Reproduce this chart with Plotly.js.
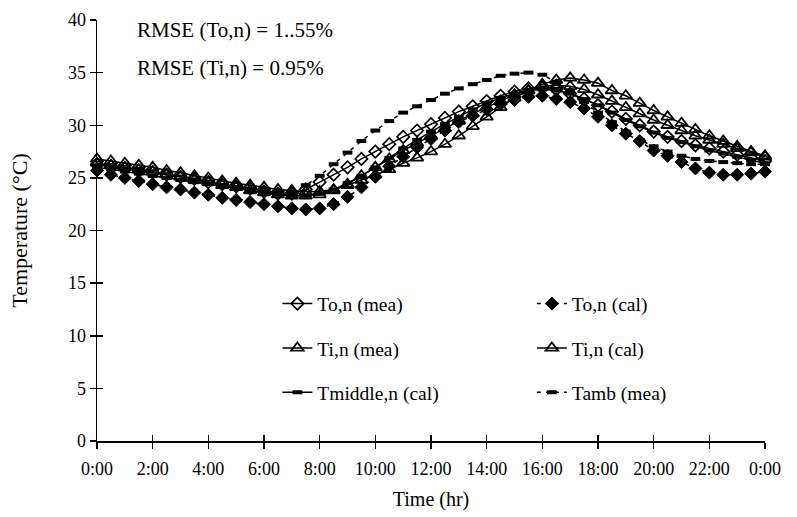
<!DOCTYPE html>
<html>
<head>
<meta charset="utf-8">
<script src="https://cdn.plot.ly/plotly-3.0.1.min.js"></script>
<style>html,body{margin:0;padding:0;background:#fff;}#chart{width:797px;height:517px;}</style>
</head>
<body>
<div id="chart"></div>
<script>
// Time in hours (half-hour steps, 0:00 to next 0:00)
const hours = [0,0.5,1,1.5,2,2.5,3,3.5,4,4.5,5,5.5,6,6.5,7,7.5,8,8.5,9,9.5,10,10.5,11,11.5,12,12.5,13,13.5,14,14.5,15,15.5,16,16.5,17,17.5,18,18.5,19,19.5,20,20.5,21,21.5,22,22.5,23,23.5,24];
const tickVals = [0,2,4,6,8,10,12,14,16,18,20,22,24];
const tickText = ["0:00","2:00","4:00","6:00","8:00","10:00","12:00","14:00","16:00","18:00","20:00","22:00","0:00"];

const toMea = [26.3,26.1,25.9,25.7,25.5,25.3,25.1,24.9,24.6,24.4,24.2,24.0,23.7,23.5,23.5,23.9,24.6,25.3,26.0,26.8,27.5,28.2,28.9,29.5,30.1,30.7,31.3,31.8,32.3,32.8,33.2,33.5,33.6,33.4,33.0,32.5,31.9,31.3,30.6,30.0,29.4,28.9,28.5,28.1,27.8,27.5,27.2,26.9,26.6];
const toCal = [25.7,25.3,25.0,24.7,24.4,24.1,23.9,23.6,23.4,23.1,22.9,22.7,22.5,22.3,22.1,22.0,22.1,22.5,23.2,24.1,25.1,26.1,27.0,27.9,28.7,29.5,30.3,30.9,31.5,32.0,32.4,32.7,32.8,32.5,32.2,31.6,30.8,30.0,29.2,28.5,27.6,27.1,26.5,25.9,25.5,25.3,25.3,25.4,25.6];
const tiMea = [26.8,26.6,26.4,26.2,26.0,25.7,25.5,25.2,25.0,24.7,24.5,24.3,24.1,23.9,23.8,23.7,23.7,23.9,24.3,24.8,25.3,25.8,26.4,26.9,27.5,28.2,29.0,29.9,30.8,31.7,32.6,33.3,33.9,34.3,34.5,34.3,34.0,33.3,32.8,32.1,31.4,30.8,30.2,29.6,29.0,28.5,28.0,27.5,27.1];
const tiCal = [26.4,26.2,26.0,25.8,25.6,25.3,25.1,24.8,24.6,24.3,24.1,23.8,23.6,23.4,23.3,23.3,23.4,23.8,24.4,25.2,26.0,26.8,27.6,28.3,29.0,29.7,30.4,31.1,31.7,32.3,32.9,33.3,33.7,33.8,33.7,33.4,32.9,32.3,31.7,31.1,30.5,30.0,29.5,29.0,28.6,28.2,27.8,27.4,27.0];
const tMiddle = [26.0,25.8,25.6,25.4,25.2,25.0,24.8,24.6,24.4,24.2,24.0,23.8,23.6,23.4,23.3,23.3,23.5,23.9,24.5,25.2,26.0,26.9,27.8,28.6,29.4,30.1,30.8,31.5,32.1,32.6,33.0,33.3,33.4,33.3,33.0,32.5,31.9,31.2,30.5,29.9,29.3,28.8,28.4,28.0,27.6,27.3,27.0,26.7,26.4];
const tAmb = [26.2,26.0,25.7,25.5,25.2,25.0,24.8,24.6,24.4,24.2,24.0,23.8,23.6,23.5,23.6,24.3,25.2,26.3,27.4,28.5,29.5,30.4,31.2,31.8,32.4,33.0,33.5,33.9,34.3,34.7,34.9,35.0,34.8,34.1,33.2,32.2,31.2,30.3,29.4,28.6,28.0,27.5,27.1,26.8,26.6,26.5,26.4,26.3,26.3];

const names = ["To,n (mea)","To,n (cal)","Ti,n (mea)","Ti,n (cal)","Tmiddle,n (cal)","Tamb (mea)"];
const rmseText = ["RMSE (To,n) = 1..55%","RMSE (Ti,n) = 0.95%"];

const FONT = "Liberation Serif, Times New Roman, serif";
const K = "#000";

function tr(y, name, dash, marker, legend, grp){
  return {x: hours, y: y, name: name, type: "scatter", mode: "lines+markers",
    line: {color: K, width: 1.5, dash: dash}, marker: marker,
    legend: legend, legendgroup: grp, cliponaxis: false};
}
const openDia = {symbol: "diamond-open", size: 9.5, color: K, line: {color: K, width: 1.7}};
const fillDia = {symbol: "diamond", size: 10, color: K, line: {color: K, width: 1}};
const openTri = {symbol: "triangle-up-open", size: 11, color: K, line: {color: K, width: 1.8}};
const bar = {symbol: "line-ew", size: 7, color: K, line: {color: K, width: 4}};

const data = [
  tr(toMea, names[0], "solid", openDia, "legend", "a"),
  tr(tiMea, names[2], "solid", openTri, "legend", "b"),
  tr(tMiddle, names[4], "solid", bar, "legend", "c"),
  tr(toCal, names[1], "4px,5px", fillDia, "legend2", "d"),
  tr(tiCal, names[3], "solid", openTri, "legend2", "e"),
  tr(tAmb, names[5], "4px,5px", bar, "legend2", "f")
];

const axBase = {showgrid: false, zeroline: false, showline: true, linecolor: K, linewidth: 1.5,
  tickcolor: K, tickwidth: 1.5, ticklen: 6, tickfont: {family: FONT, size: 18, color: K}};

const layout = {
  width: 797, height: 517,
  margin: {l: 97, r: 32, t: 20, b: 76},
  paper_bgcolor: "#fff", plot_bgcolor: "#fff",
  font: {family: FONT, color: K},
  showlegend: true,
  xaxis: Object.assign({}, axBase, {range: [0, 24], tickvals: tickVals, ticktext: tickText, ticks: "outside",
    ticklabelstandoff: 5,
    title: {text: "Time (hr)", font: {family: FONT, size: 20, color: K}, standoff: 14}}),
  xaxis2: Object.assign({}, axBase, {range: [0, 24], tickvals: tickVals, ticks: "inside", showticklabels: false,
    overlaying: "x", matches: "x"}),
  yaxis: Object.assign({}, axBase, {range: [0, 40], dtick: 5, ticks: "outside",
    title: {text: "Temperature (°C)", font: {family: FONT, size: 22, color: K}, standoff: 34}}),
  yaxis2: Object.assign({}, axBase, {range: [0, 40], dtick: 5, ticks: "inside", showticklabels: false,
    overlaying: "y", side: "left"}),
  legend: {x: 0.270, y: 0.372, xanchor: "left", yanchor: "top", bgcolor: "rgba(0,0,0,0)",
    font: {family: FONT, size: 19.5, color: K}, tracegroupgap: 16, traceorder: "grouped"},
  legend2: {x: 0.651, y: 0.372, xanchor: "left", yanchor: "top", bgcolor: "rgba(0,0,0,0)",
    font: {family: FONT, size: 19.5, color: K}, tracegroupgap: 16, traceorder: "grouped"},
  annotations: [
    {xref: "paper", yref: "paper", x: 0.057, y: 0.976, xanchor: "left", yanchor: "middle", showarrow: false,
      text: rmseText[0], font: {family: FONT, size: 21, color: K}},
    {xref: "paper", yref: "paper", x: 0.057, y: 0.886, xanchor: "left", yanchor: "middle", showarrow: false,
      text: rmseText[1], font: {family: FONT, size: 21, color: K}}
  ]
};
// invisible point so the overlaid cross-tick axes are drawn
data.push({x: [0], y: [0], xaxis: "x2", yaxis: "y2", mode: "markers", marker: {opacity: 0}, showlegend: false, hoverinfo: "skip"});

Plotly.newPlot("chart", data, layout, {displayModeBar: false, staticPlot: true});
</script>
</body>
</html>
